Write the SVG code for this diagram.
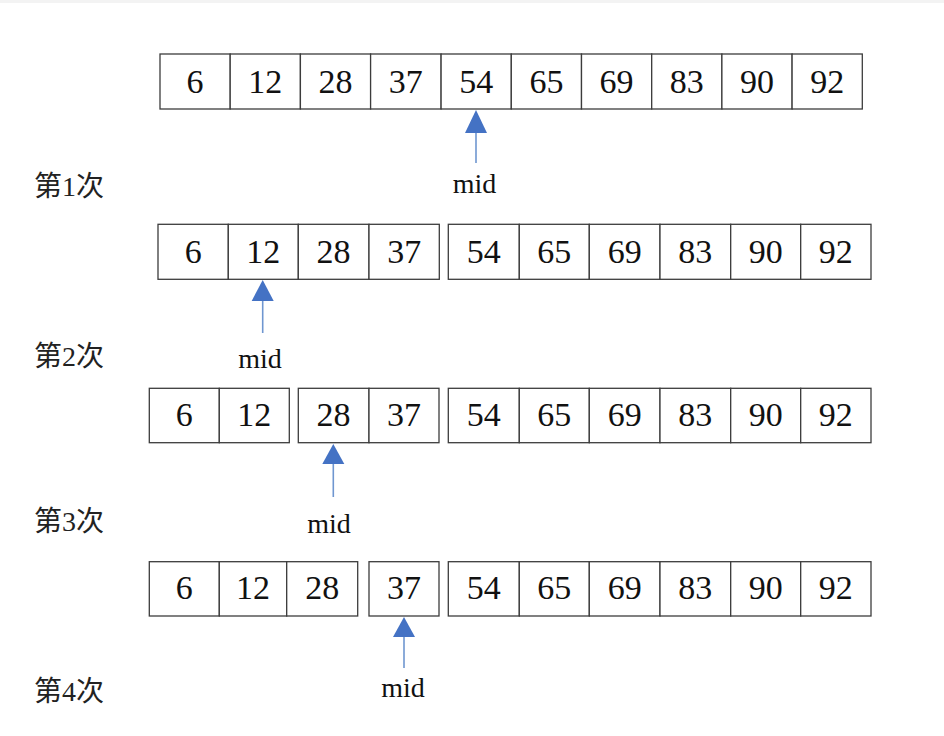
<svg xmlns="http://www.w3.org/2000/svg" width="944" height="736" viewBox="0 0 944 736">
<style>
.c{fill:#fff;stroke:#3c3c3c;stroke-width:1.3}
.n{font-family:"Liberation Serif","Times New Roman",serif;font-size:34px;fill:#111;text-anchor:middle}
.m{font-family:"Liberation Serif","Times New Roman",serif;font-size:28px;fill:#111;text-anchor:middle}
.l{font-family:"Liberation Serif","Noto Sans CJK SC",serif;font-size:28px;fill:#222}
.a{stroke:#6f96d0;stroke-width:1.6;fill:none}
.h{fill:#4472c4}
</style>
<rect x="0" y="0" width="944" height="736" fill="#fff"/>
<rect x="0" y="0" width="944" height="3" fill="#f3f3f3"/>

<g id="labels">
<text class="l" x="34" y="196">第1次</text>
<text class="l" x="34" y="366">第2次</text>
<text class="l" x="34" y="531">第3次</text>
<text class="l" x="34" y="701">第4次</text>
</g>

<g id="row1">
<g id="r1c0"><rect class="c" x="160" y="54" width="70.2" height="55"/><text class="n" x="195.1" y="93">6</text></g>
<g id="r1c1"><rect class="c" x="230.2" y="54" width="70.2" height="55"/><text class="n" x="265.3" y="93">12</text></g>
<g id="r1c2"><rect class="c" x="300.4" y="54" width="70.2" height="55"/><text class="n" x="335.5" y="93">28</text></g>
<g id="r1c3"><rect class="c" x="370.6" y="54" width="70.5" height="55"/><text class="n" x="405.8" y="93">37</text></g>
<g id="r1c4"><rect class="c" x="441.1" y="54" width="70.2" height="55"/><text class="n" x="476.2" y="93">54</text></g>
<g id="r1c5"><rect class="c" x="511.3" y="54" width="70.2" height="55"/><text class="n" x="546.4" y="93">65</text></g>
<g id="r1c6"><rect class="c" x="581.5" y="54" width="70.2" height="55"/><text class="n" x="616.6" y="93">69</text></g>
<g id="r1c7"><rect class="c" x="651.7" y="54" width="70.2" height="55"/><text class="n" x="686.8" y="93">83</text></g>
<g id="r1c8"><rect class="c" x="721.9" y="54" width="70.2" height="55"/><text class="n" x="757" y="93">90</text></g>
<g id="r1c9"><rect class="c" x="792.1" y="54" width="70.2" height="55"/><text class="n" x="827.2" y="93">92</text></g>
</g>

<g id="row2">
<g id="r2c0"><rect class="c" x="158" y="224.3" width="70.3" height="55"/><text class="n" x="193.2" y="263">6</text></g>
<g id="r2c1"><rect class="c" x="228.3" y="224.3" width="70" height="55"/><text class="n" x="263.3" y="263">12</text></g>
<g id="r2c2"><rect class="c" x="298.3" y="224.3" width="70.7" height="55"/><text class="n" x="333.6" y="263">28</text></g>
<g id="r2c3"><rect class="c" x="369" y="224.3" width="70.3" height="55"/><text class="n" x="404.2" y="263">37</text></g>
<g id="r2c4"><rect class="c" x="448.3" y="224.3" width="71" height="55"/><text class="n" x="483.8" y="263">54</text></g>
<g id="r2c5"><rect class="c" x="519.3" y="224.3" width="70" height="55"/><text class="n" x="554.3" y="263">65</text></g>
<g id="r2c6"><rect class="c" x="589.3" y="224.3" width="70.7" height="55"/><text class="n" x="624.7" y="263">69</text></g>
<g id="r2c7"><rect class="c" x="660" y="224.3" width="70.7" height="55"/><text class="n" x="695.3" y="263">83</text></g>
<g id="r2c8"><rect class="c" x="730.7" y="224.3" width="70" height="55"/><text class="n" x="765.7" y="263">90</text></g>
<g id="r2c9"><rect class="c" x="800.7" y="224.3" width="70.3" height="55"/><text class="n" x="835.8" y="263">92</text></g>
</g>

<g id="row3">
<g id="r3c0"><rect class="c" x="149.3" y="388.3" width="70" height="54.4"/><text class="n" x="184.3" y="426">6</text></g>
<g id="r3c1"><rect class="c" x="219.3" y="388.3" width="70" height="54.4"/><text class="n" x="254.3" y="426">12</text></g>
<g id="r3c2"><rect class="c" x="298.3" y="388.3" width="70.7" height="54.4"/><text class="n" x="333.6" y="426">28</text></g>
<g id="r3c3"><rect class="c" x="369" y="388.3" width="70" height="54.4"/><text class="n" x="404" y="426">37</text></g>
<g id="r3c4"><rect class="c" x="448.3" y="388.3" width="71" height="54.4"/><text class="n" x="483.8" y="426">54</text></g>
<g id="r3c5"><rect class="c" x="519.3" y="388.3" width="70" height="54.4"/><text class="n" x="554.3" y="426">65</text></g>
<g id="r3c6"><rect class="c" x="589.3" y="388.3" width="70.7" height="54.4"/><text class="n" x="624.7" y="426">69</text></g>
<g id="r3c7"><rect class="c" x="660" y="388.3" width="70.7" height="54.4"/><text class="n" x="695.3" y="426">83</text></g>
<g id="r3c8"><rect class="c" x="730.7" y="388.3" width="70" height="54.4"/><text class="n" x="765.7" y="426">90</text></g>
<g id="r3c9"><rect class="c" x="800.7" y="388.3" width="70.3" height="54.4"/><text class="n" x="835.8" y="426">92</text></g>
</g>

<g id="row4">
<g id="r4c0"><rect class="c" x="149.3" y="561.7" width="70" height="54.3"/><text class="n" x="184.3" y="599">6</text></g>
<g id="r4c1"><rect class="c" x="219.3" y="561.7" width="67.4" height="54.3"/><text class="n" x="253" y="599">12</text></g>
<g id="r4c2"><rect class="c" x="286.7" y="561.7" width="71" height="54.3"/><text class="n" x="322.2" y="599">28</text></g>
<g id="r4c3"><rect class="c" x="369" y="561.7" width="70" height="54.3"/><text class="n" x="404" y="599">37</text></g>
<g id="r4c4"><rect class="c" x="448.3" y="561.7" width="71" height="54.3"/><text class="n" x="483.8" y="599">54</text></g>
<g id="r4c5"><rect class="c" x="519.3" y="561.7" width="70" height="54.3"/><text class="n" x="554.3" y="599">65</text></g>
<g id="r4c6"><rect class="c" x="589.3" y="561.7" width="70.7" height="54.3"/><text class="n" x="624.7" y="599">69</text></g>
<g id="r4c7"><rect class="c" x="660" y="561.7" width="70.7" height="54.3"/><text class="n" x="695.3" y="599">83</text></g>
<g id="r4c8"><rect class="c" x="730.7" y="561.7" width="70" height="54.3"/><text class="n" x="765.7" y="599">90</text></g>
<g id="r4c9"><rect class="c" x="800.7" y="561.7" width="70.3" height="54.3"/><text class="n" x="835.8" y="599">92</text></g>
</g>

<g id="connectors">
<line class="a" x1="476" y1="130" x2="476" y2="163"/>
<polygon class="h" points="476,110 465,133 487,133"/>
<line class="a" x1="262.7" y1="298" x2="262.7" y2="333"/>
<polygon class="h" points="262.7,280 251.7,301 273.7,301"/>
<line class="a" x1="333.3" y1="460" x2="333.3" y2="497"/>
<polygon class="h" points="333.3,444 322.3,464 344.3,464"/>
<line class="a" x1="404" y1="634" x2="404" y2="668"/>
<polygon class="h" points="404,617 393,637 415,637"/>
</g>

<g id="mid-labels">
<text class="m" x="474.5" y="193">mid</text>
<text class="m" x="260" y="368">mid</text>
<text class="m" x="329" y="533">mid</text>
<text class="m" x="403" y="697">mid</text>
</g>
</svg>
